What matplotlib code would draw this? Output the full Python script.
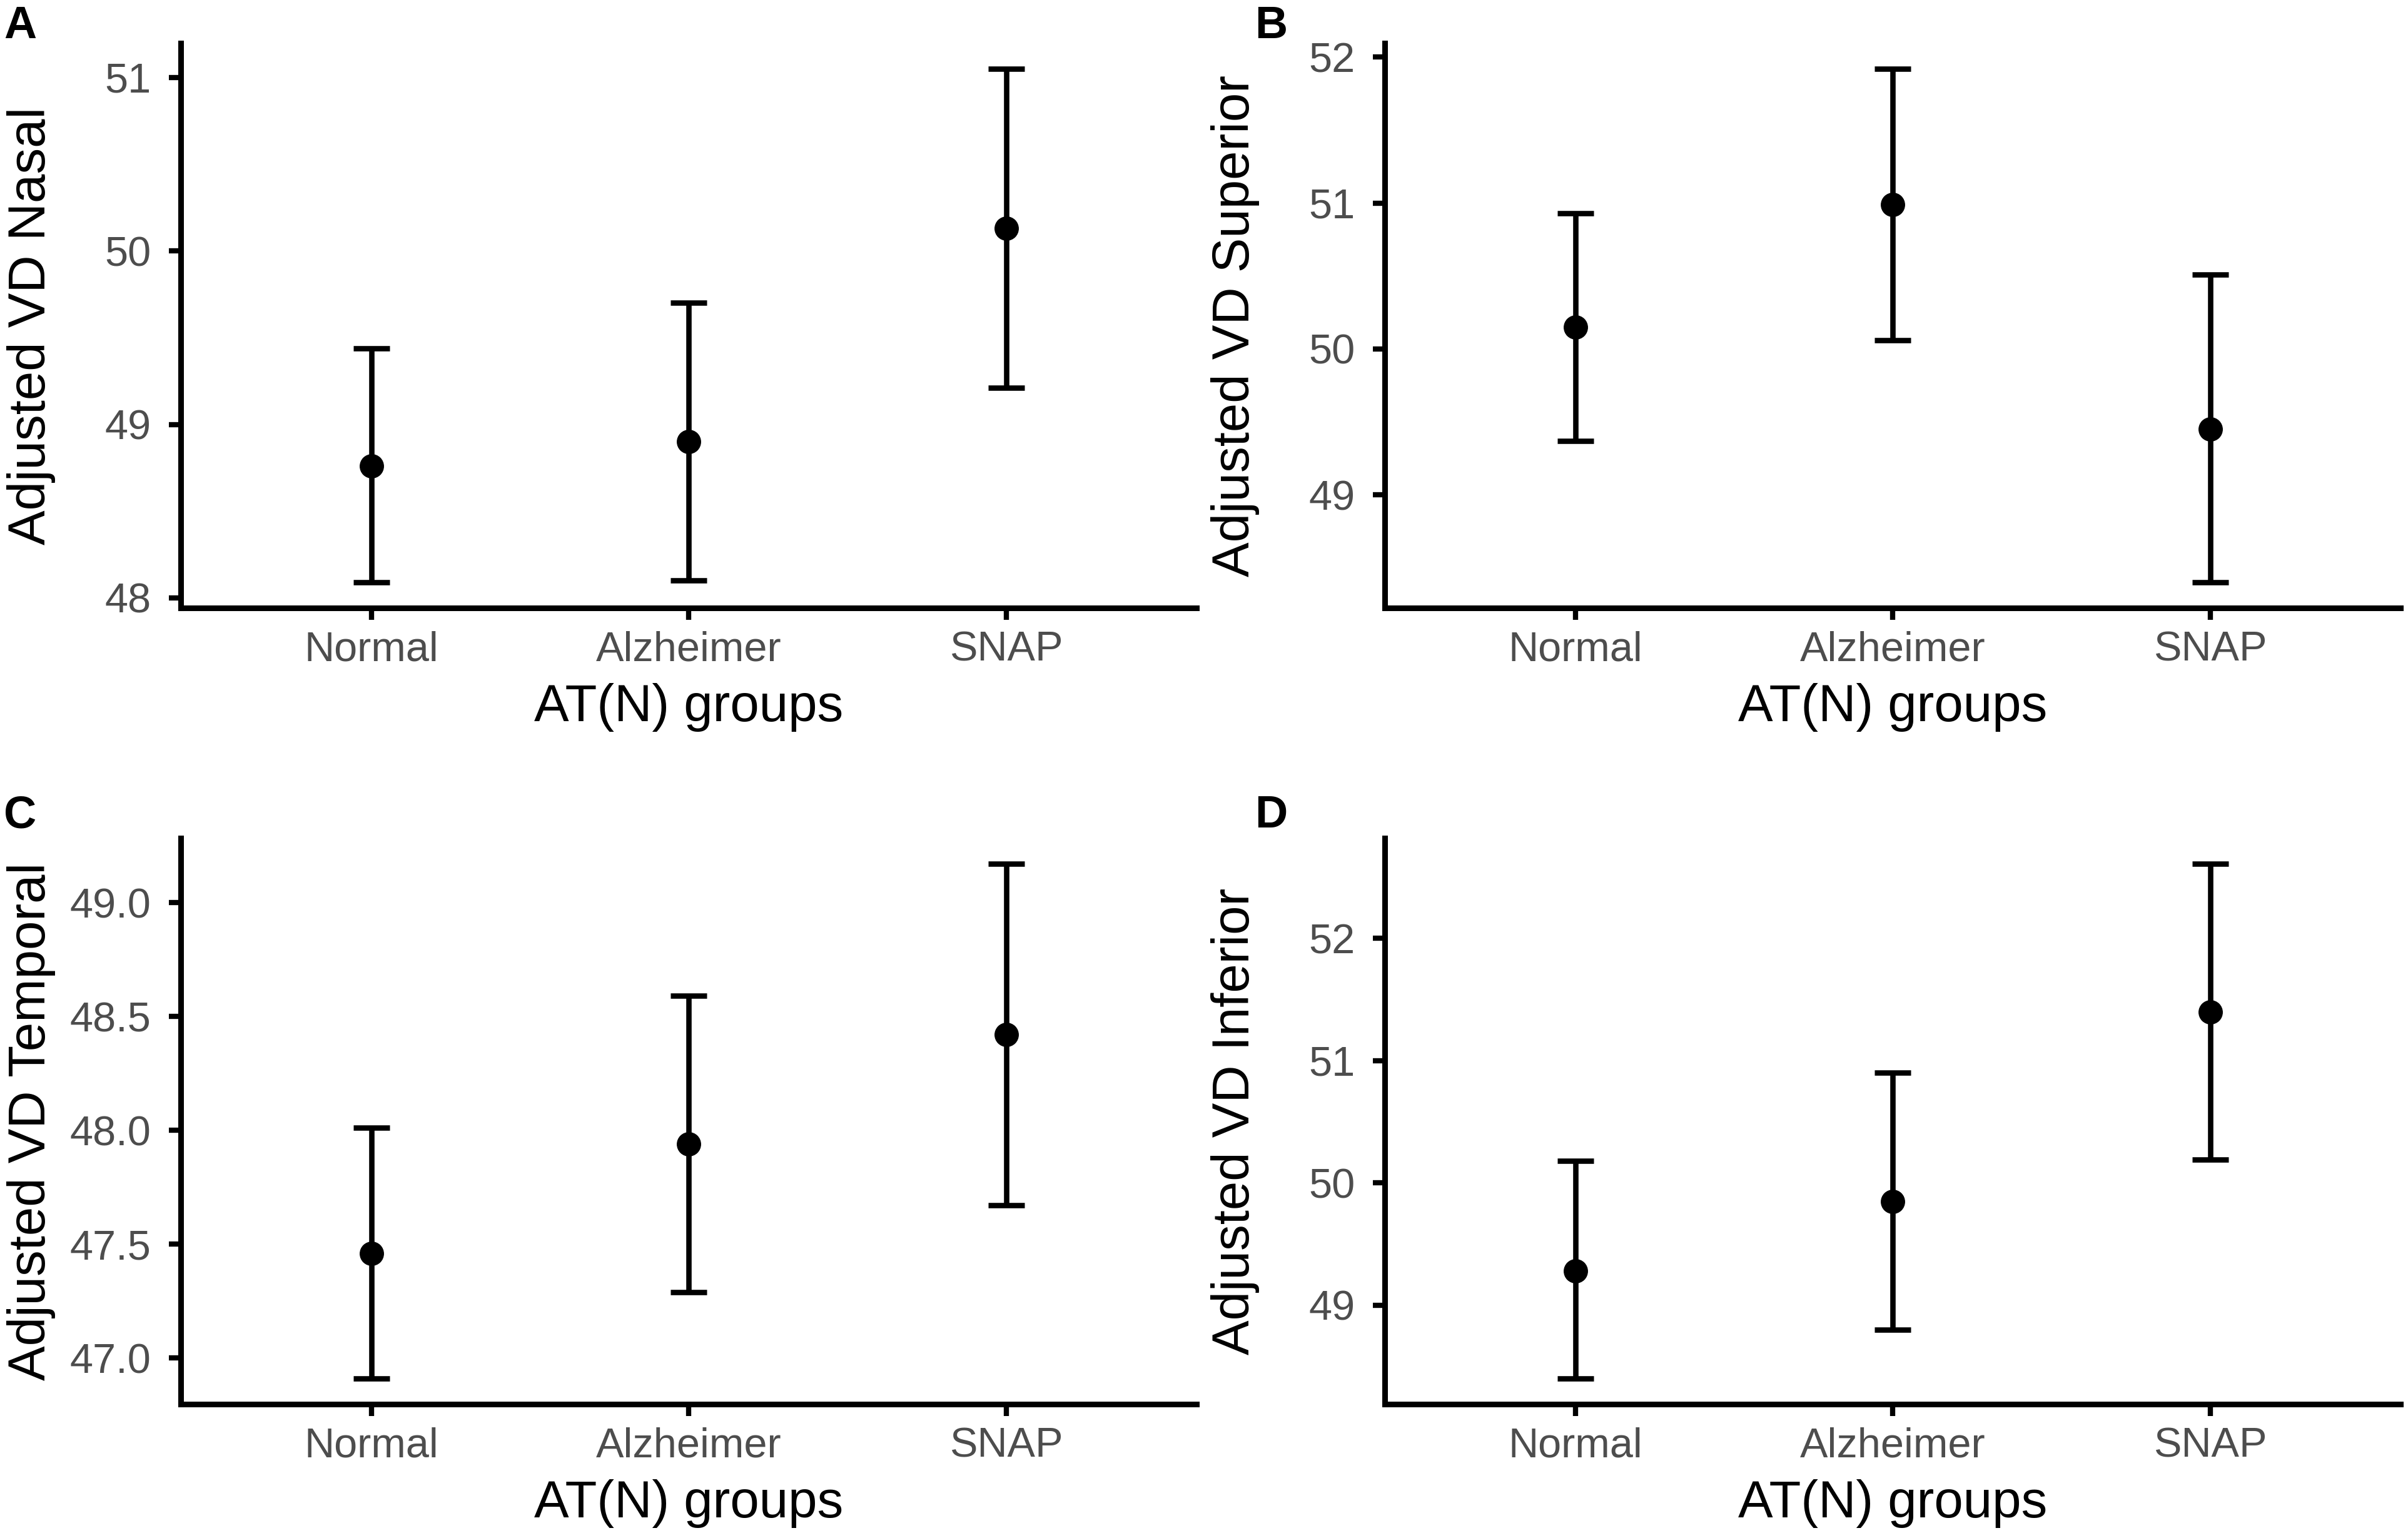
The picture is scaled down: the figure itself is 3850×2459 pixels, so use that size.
import matplotlib
matplotlib.use('Agg')
import matplotlib.pyplot as plt

plt.rcParams['font.family'] = ['Liberation Sans', 'DejaVu Sans']

groups = ['Normal', 'Alzheimer', 'SNAP']
xlabel = 'AT(N) groups'

# panel A - nasal
nasal_mean = [48.76, 48.90, 50.13]
nasal_low = [48.09, 48.10, 49.21]
nasal_high = [49.44, 49.70, 51.05]
nasal_ticks = [48, 49, 50, 51]

# panel B - superior
sup_mean = [50.15, 50.99, 49.45]
sup_low = [49.37, 50.06, 48.40]
sup_high = [50.93, 51.92, 50.51]
sup_ticks = [49, 50, 51, 52]

# panel C - temporal
temp_mean = [47.46, 47.94, 48.42]
temp_low = [46.91, 47.29, 47.67]
temp_high = [48.01, 48.59, 49.17]
temp_ticks = [47.0, 47.5, 48.0, 48.5, 49.0]

# panel D - inferior
inf_mean = [49.28, 49.85, 51.40]
inf_low = [48.40, 48.80, 50.19]
inf_high = [50.18, 50.90, 52.61]
inf_ticks = [49, 50, 51, 52]

panels = [
    ('A', 'Adjusted VD Nasal', nasal_mean, nasal_low, nasal_high, nasal_ticks, '%d'),
    ('B', 'Adjusted VD Superior', sup_mean, sup_low, sup_high, sup_ticks, '%d'),
    ('C', 'Adjusted VD Temporal', temp_mean, temp_low, temp_high, temp_ticks, '%.1f'),
    ('D', 'Adjusted VD Inferior', inf_mean, inf_low, inf_high, inf_ticks, '%d'),
]

W, H = 3850, 2459
fig = plt.figure(figsize=(W / 100, H / 100), dpi=100)

# axes boxes in pixels: left, top, right, bottom
boxes = [(289, 69, 1913, 972), (2214, 69, 3838, 972),
         (289, 1340, 1913, 2245), (2214, 1340, 3838, 2245)]
letter_pos = [(6, 8), (2006, 8), (6, 1270), (2006, 1270)]

lw = 6.2
grey = '#4D4D4D'

for (letter, ylab, mean, low, high, ticks, fmt), box, lp in zip(panels, boxes, letter_pos):
    l, t, r, b = box
    ax = fig.add_axes([l / W, 1 - b / H, (r - l) / W, (b - t) / H])
    x = list(range(1, len(groups) + 1))
    err = [[m - lo for m, lo in zip(mean, low)], [hi - m for m, hi in zip(mean, high)]]
    ax.errorbar(x, mean, yerr=err, fmt='o', color='black', markersize=27,
                elinewidth=lw, capsize=21, capthick=lw)
    ax.set_xlim(0.4, 3.6)
    ax.margins(y=0.05)
    ax.set_xticks(x)
    ax.set_xticklabels(groups)
    ax.set_yticks(ticks)
    ax.set_yticklabels([fmt % v for v in ticks])
    for side in ['top', 'right']:
        ax.spines[side].set_visible(False)
    for side in ['left', 'bottom']:
        ax.spines[side].set_linewidth(6.5)
    ax.tick_params(axis='both', length=14, width=6, labelsize=48, labelcolor=grey)
    ax.tick_params(axis='x', pad=12)
    ax.tick_params(axis='y', pad=20)
    ax.set_xlabel(xlabel, fontsize=60, labelpad=16)
    ax.set_ylabel(ylab, fontsize=60)
    ax.yaxis.set_label_coords(-200 / (r - l), 0.5)
    fig.text(lp[0] / W, 1 - lp[1] / H, letter, fontsize=52, fontweight='bold',
             ha='left', va='top')

fig.savefig('out.png', dpi=100, facecolor='white')
